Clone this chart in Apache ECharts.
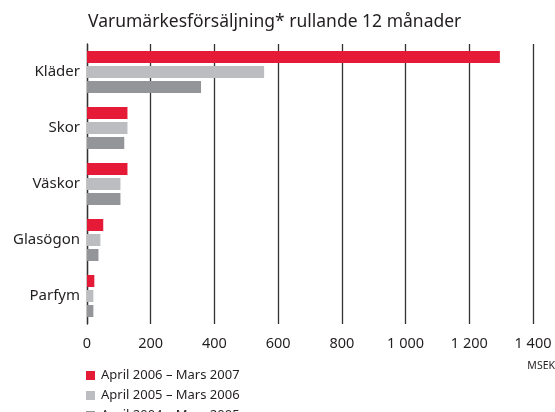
<!DOCTYPE html>
<html><head><meta charset="utf-8">
<script src="https://cdn.jsdelivr.net/npm/echarts@6/dist/echarts.min.js"></script>
<style>html,body{margin:0;padding:0;background:#fff}#c{width:555px;height:412px}</style>
</head><body><div id="c"></div>
<script>
const categories = ['Kläder', 'Skor', 'Väskor', 'Glasögon', 'Parfym'];
const seriesNames = ['April 2006 – Mars 2007', 'April 2005 – Mars 2006', 'April 2004 – Mars 2005'];
const s2007 = [1296, 127, 127, 51, 23];
const s2006 = [556, 127, 105, 42, 20];
const s2005 = [358, 117, 105, 36, 20];
const xTicks = [0, 200, 400, 600, 800, 1000, 1200, 1400];
const colors = ['#e41a37', '#bcbdc0', '#939598'];
const font = '"Noto Sans", sans-serif';

const chart = echarts.init(document.getElementById('c'));
const data = [s2007, s2006, s2005];
chart.setOption({
  animation: false,
  textStyle: { fontFamily: font },
  title: {
    text: 'Varumärkesförsäljning* rullande 12 månader',
    left: 83, top: 8,
    textStyle: { fontSize: 17.5, fontWeight: 'normal', color: '#231f20', fontFamily: font }
  },
  legend: {
    orient: 'vertical', left: 86, top: 369, height: 120, padding: 0,
    itemWidth: 9, itemHeight: 9, itemGap: 7,
    icon: 'rect',
    textStyle: { fontSize: 13, color: '#231f20', fontFamily: font, padding: [0, 0, 0, 1] },
    data: seriesNames
  },
  grid: { left: 87, right: 22, top: 44, bottom: 88, containLabel: false },
  xAxis: {
    type: 'value', min: xTicks[0], max: xTicks[xTicks.length - 1], interval: 200,
    axisLine: { show: false }, axisTick: { show: false },
    splitLine: { show: true, lineStyle: { color: '#333', width: 1.3 } },
    axisLabel: {
      margin: 12, fontSize: 14.5, color: '#231f20', fontFamily: font,
      formatter: v => String(v).replace(/\B(?=(\d{3})+(?!\d))/g, ' ')
    }
  },
  yAxis: {
    type: 'category', data: categories, inverse: true,
    axisLine: { show: true, lineStyle: { color: '#333', width: 1.3 } },
    axisTick: { show: false },
    axisLabel: { margin: 7, fontSize: 15, color: '#231f20', fontFamily: font }
  },
  graphic: [{
    type: 'text', right: 0, top: 361,
    style: { text: 'MSEK', fontSize: 10.5, fill: '#231f20', fontFamily: font }
  }],
  series: seriesNames.map((n, i) => ({
    name: n, type: 'bar', data: data[i],
    barWidth: 12, barGap: '25%',
    itemStyle: { color: colors[i] }
  }))
});
</script></body></html>
